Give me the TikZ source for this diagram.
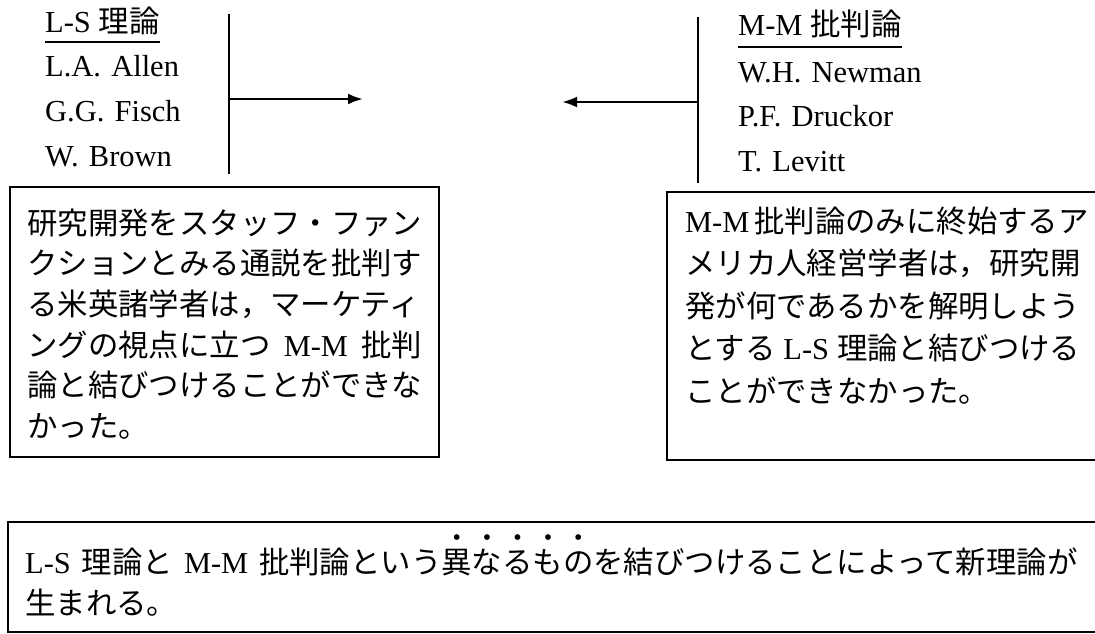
\documentclass[tikz,border=0pt]{standalone}
\usepackage{fontspec}
\setmainfont{Liberation Serif}
\newfontfamily\jp{Noto Sans CJK JP}
\usetikzlibrary{arrows.meta}
\frenchspacing
\newlength\tw \setlength\tw{395pt}
\newcommand\tf{\fontsize{30.4pt}{40.7pt}\selectfont}
\newcommand\tfr{\fontsize{30.4pt}{42.5pt}\selectfont}
\newcommand\tfb{\fontsize{30.4pt}{41pt}\selectfont}
\newcommand\nf{\fontsize{30.5pt}{44.8pt}\selectfont}
\newcommand\jl[1]{\leavevmode\hbox to \tw{#1\hfil}}
\newcommand\hl[1]{\leavevmode\hbox{#1}}
\newcommand\jsp{\hskip 8pt plus 1fill\relax}
\newcommand\xsp{\hskip 11pt\relax}
\newcommand\bt[1]{\makebox[0pt][l]{\makebox[30.4pt]{\raisebox{28pt}{\rmfamily\fontsize{24pt}{24pt}\selectfont\textbullet}}}#1}
\tikzset{
  frame/.style={draw, line width=1.3pt},
  bodytext/.style={anchor=base west, inner sep=0pt, text width=\tw, align=left},
  listtext/.style={anchor=base west, inner sep=0pt, text width=220pt, align=left, font=\nf},
  headtext/.style={anchor=base west, inner sep=0pt, font=\nf},
  uline/.style={line width=1.2pt},
  bracket/.style={line width=1.3pt},
  arr/.style={line width=2.6pt, -{Latex[length=15pt,width=11pt]}},
}
\begin{document}
\begin{tikzpicture}[x=1pt,y=-1pt]
\useasboundingbox (0,0) rectangle (1095,634);
\clip (0,0) rectangle (1095,634);
\fill[white] (0,0) rectangle (1095,634);

% ---- left list ----
\node[headtext] (lsh) at (45,33) {L-S {\jp 理論}};
\draw[uline] ([yshift=-9pt]lsh.base west) -- ([yshift=-9pt]lsh.base east);
\node[listtext] (lsn) at (45,77) {L.A. Allen\\G.G. Fisch\\W. Brown};
\coordinate (lt) at (229,14);
\coordinate (lb) at (229,174);
\coordinate (la) at (229,99);
\coordinate (lae) at (363,99);
\draw[bracket] (lt) -- (lb);
\draw[arr] (la) -- (lae);

% ---- right list ----
\node[headtext] (mmh) at (738,36) {M-M {\jp 批判論}};
\draw[uline] ([yshift=-11pt]mmh.base west) -- ([yshift=-11pt]mmh.base east);
\node[listtext] (mmn) at (738,82) {W.H. Newman\\P.F. Druckor\\T. Levitt};
\coordinate (rt) at (698,17);
\coordinate (rb) at (698,183);
\coordinate (ra) at (698,102);
\coordinate (rae) at (562,102);
\draw[bracket] (rt) -- (rb);
\draw[arr] (ra) -- (rae);

% ---- left box ----
\draw[frame] (10,187) rectangle (439,457);
\node[bodytext, font=\tf] (lbox) at (27,234) {%
\jl{\jp 研究開発をスタッフ・ファン}\\
\jl{\jp クションとみる通説を批判す}\\
\jl{\jp る米英諸学者は，マーケティ}\\
\jl{{\jp ングの視点に立つ}\jsp M-M\jsp{\jp 批判}}\\
\jl{\jp 論と結びつけることができな}\\
\jl{\jp かった。}};

% ---- right box ----
\draw[frame] (667,192) rectangle (1110,460);
\node[bodytext, font=\tfr] (rbox) at (685,232) {%
\hl{M-M\hskip 5pt{\jp 批判論のみに終始するア}}\\
\jl{\jp メリカ人経営学者は，研究開}\\
\jl{\jp 発が何であるかを解明しよう}\\
\jl{{\jp とする}\jsp L-S\jsp{\jp 理論と結びつける}}\\
\jl{\jp ことができなかった。}};

% ---- bottom box ----
\draw[frame] (8,522) rectangle (1110,632);
\node[bodytext, text width=1080pt, font=\tfb] (bbox) at (25,573) {%
\hl{L-S\xsp{\jp 理論と}\xsp M-M\xsp{\jp 批判論という\bt{異}\bt{な}\bt{る}\bt{も}\bt{の}を結びつけることによって新理論が}}\\
\hl{\jp 生まれる。}};
\end{tikzpicture}
\end{document}
